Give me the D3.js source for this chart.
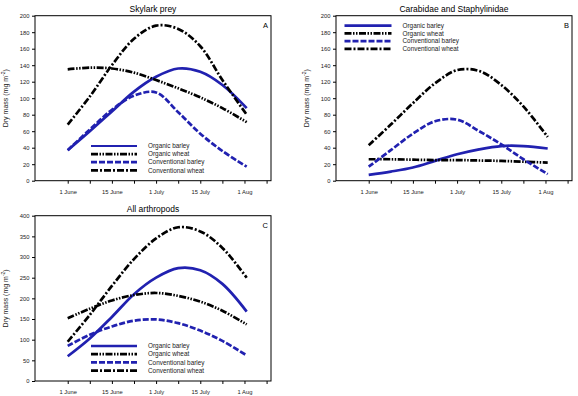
<!DOCTYPE html>
<html>
<head>
<meta charset="utf-8">
<script src="https://cdn.jsdelivr.net/npm/d3@7"></script>
<style>
  body { margin: 0; background: #fff; }
  text { font-family: "Liberation Sans", Arial, sans-serif; }
</style>
</head>
<body>
<svg id="chart" width="578" height="396"></svg>
<script>
// x positions in half-month steps from 1 June (0) to 1 Aug (4)
var dates = [0, 0.5, 1, 1.5, 2, 2.5, 3, 3.5, 4.05];
var tickLabels = ["1 June", "15 June", "1 July", "15 July", "1 Aug"];
var seriesNames = ["Organic barley", "Organic wheat", "Conventional barley", "Conventional wheat"];

// A: Skylark prey
var orgBarleyA  = [37, 60, 84, 108, 126, 136, 132, 116, 88];
var orgWheatA   = [135, 137, 136, 131, 122, 112, 101, 88, 71];
var convBarleyA = [37, 62, 86, 103, 107, 83, 57, 36, 17];
var convWheatA  = [68, 102, 140, 172, 188, 184, 163, 122, 80];

// B: Carabidae and Staphylinidae
var orgBarleyB  = [7, 11, 16, 24, 32, 38, 42, 42, 39];
var orgWheatB   = [26, 26, 25.5, 25, 25, 24.5, 24, 23, 22];
var convBarleyB = [17, 37, 57, 72, 74, 60, 44, 26, 8];
var convWheatB  = [43, 68, 94, 118, 134, 133, 116, 90, 53];

// C: All arthropods
var orgBarleyC  = [60, 103, 155, 210, 250, 273, 268, 235, 168];
var orgWheatC   = [152, 175, 195, 208, 213, 206, 192, 170, 137];
var convBarleyC = [85, 112, 132, 146, 149, 140, 122, 97, 62];
var convWheatC  = [95, 160, 230, 295, 345, 372, 362, 322, 250];

var blue = "#2121b0";
var styles = [
  {color: blue,   dash: null,                    width: 2.7},
  {color: "#000", dash: "7,1.5,1.5,1.5,1.5,1.5", width: 2.7},
  {color: blue,   dash: "6,2",                   width: 2.7},
  {color: "#000", dash: "7,2,2,2",               width: 2.7}
];

var svg = d3.select("#chart");

function drawPanel(p) {
  var x = d3.scaleLinear().domain([-0.74, 4.6]).range([p.left, p.right]);
  var y = d3.scaleLinear().domain([0, p.yMax]).range([p.bottom, p.top]);
  var g = svg.append("g");

  // x axis
  var xAxis = g.append("g")
    .attr("transform", "translate(0," + p.bottom + ")")
    .call(d3.axisBottom(x)
      .tickValues(d3.range(0, 4.51, 0.5))
      .tickSize(3)
      .tickSizeOuter(0)
      .tickFormat(function(d) { return d % 1 === 0 ? tickLabels[d] : ""; }));
  xAxis.select(".domain").remove();
  xAxis.selectAll("text").attr("font-size", "5.8px").attr("fill", "#222").attr("dy", "1.25em");

  // y axis
  var yAxis = g.append("g")
    .attr("transform", "translate(" + p.left + ",0)")
    .call(d3.axisLeft(y)
      .tickValues(d3.range(0, p.yMax + 1, p.yStep))
      .tickSize(3)
      .tickSizeOuter(0));
  yAxis.select(".domain").remove();
  yAxis.selectAll("text").attr("font-size", "5.8px").attr("fill", "#222").attr("x", -5.5);

  // frame
  g.append("rect")
    .attr("x", p.left).attr("y", p.top)
    .attr("width", p.right - p.left).attr("height", p.bottom - p.top)
    .attr("fill", "none").attr("stroke", "#000").attr("stroke-width", 1);

  var line = d3.line()
    .x(function(d, i) { return x(dates[i]); })
    .y(function(d) { return y(d); })
    .curve(d3.curveCatmullRom.alpha(0.5));

  p.series.forEach(function(s, i) {
    g.append("path")
      .attr("d", line(s))
      .attr("fill", "none")
      .attr("stroke", styles[i].color)
      .attr("stroke-width", styles[i].width)
      .attr("stroke-dasharray", styles[i].dash);
  });

  // legend
  seriesNames.forEach(function(name, i) {
    var ly = p.legY + i * p.legStep;
    g.append("line")
      .attr("x1", p.legX).attr("x2", p.legX + p.legLen)
      .attr("y1", ly).attr("y2", ly)
      .attr("stroke", styles[i].color)
      .attr("stroke-width", i === 0 && p.letter === "A" ? 2 : styles[i].width)
      .attr("stroke-dasharray", styles[i].dash);
    g.append("text")
      .attr("x", p.legX + p.legLen + 11).attr("y", ly + 2.2)
      .attr("font-size", "6.4px").attr("fill", "#222")
      .text(name);
  });

  // title
  g.append("text")
    .attr("x", (p.left + p.right) / 2).attr("y", p.top - 4)
    .attr("text-anchor", "middle").attr("font-size", "8.5px")
    .text(p.title);

  // panel letter
  g.append("text")
    .attr("x", p.right - 3).attr("y", p.top + 12.5)
    .attr("text-anchor", "end").attr("font-size", "7.5px")
    .text(p.letter);

  // y label
  var yl = g.append("text")
    .attr("transform", "translate(" + (p.left - 27.5) + "," + ((p.top + p.bottom) / 2) + ") rotate(-90)")
    .attr("text-anchor", "middle").attr("font-size", "7px").attr("fill", "#222");
  yl.append("tspan").text("Dry mass (mg m");
  yl.append("tspan").attr("font-size", "5px").attr("dy", -3).text("-2");
  yl.append("tspan").attr("dy", 3).text(")");
}

drawPanel({left: 35, right: 271, top: 15.7, bottom: 180.7, yMax: 200, yStep: 20,
  title: "Skylark prey", letter: "A",
  series: [orgBarleyA, orgWheatA, convBarleyA, convWheatA],
  legX: 91, legLen: 46, legY: 146, legStep: 8.1});

drawPanel({left: 336, right: 572, top: 15.7, bottom: 180.7, yMax: 200, yStep: 20,
  title: "Carabidae and Staphylinidae", letter: "B",
  series: [orgBarleyB, orgWheatB, convBarleyB, convWheatB],
  legX: 344.5, legLen: 47, legY: 25.7, legStep: 7.7});

drawPanel({left: 35, right: 271, top: 215.7, bottom: 381, yMax: 400, yStep: 50,
  title: "All arthropods", letter: "C",
  series: [orgBarleyC, orgWheatC, convBarleyC, convWheatC],
  legX: 91, legLen: 46, legY: 346, legStep: 8.2});
</script>
</body>
</html>
